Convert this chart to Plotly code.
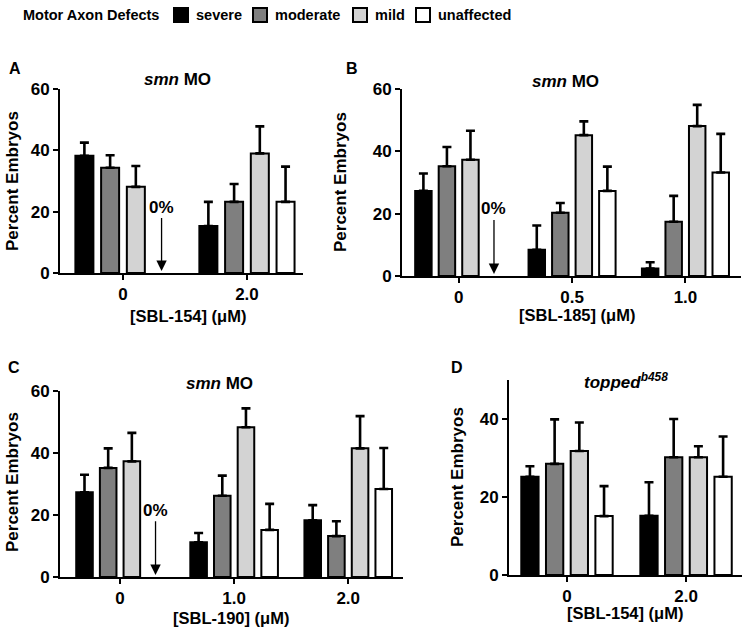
import plotly.graph_objects as go

# ---------------- data ----------------
series = ["severe", "moderate", "mild", "unaffected"]
colors = ["#000000", "#7f7f7f", "#d3d3d3", "#ffffff"]
legend_title = "Motor Axon Defects"

cats_A = ["0", "2.0"]
A_vals = {
    "severe": [38.2, 15.3],
    "moderate": [34.3, 23.2],
    "mild": [28.1, 39.0],
    "unaffected": [0, 23.2],
}
A_err = {
    "severe": [4.3, 7.9],
    "moderate": [4.1, 5.8],
    "mild": [6.8, 8.8],
    "unaffected": [0, 11.5],
}

cats_B = ["0", "0.5", "1.0"]
B_vals = {
    "severe": [27.3, 8.4, 2.4],
    "moderate": [35.2, 20.3, 17.4],
    "mild": [37.3, 45.2, 48.1],
    "unaffected": [0, 27.3, 33.2],
}
B_err = {
    "severe": [5.6, 7.8, 2.0],
    "moderate": [6.2, 3.1, 8.3],
    "mild": [9.3, 4.4, 6.8],
    "unaffected": [0, 7.8, 12.4],
}

cats_C = ["0", "1.0", "2.0"]
C_vals = {
    "severe": [27.3, 11.2, 18.3],
    "moderate": [35.2, 26.2, 13.2],
    "mild": [37.3, 48.3, 41.5],
    "unaffected": [0, 15.2, 28.4],
}
C_err = {
    "severe": [5.7, 3.0, 4.9],
    "moderate": [6.3, 6.5, 4.8],
    "mild": [9.2, 6.1, 10.4],
    "unaffected": [0, 8.4, 13.2],
}

cats_D = ["0", "2.0"]
D_vals = {
    "severe": [25.2, 15.2],
    "moderate": [28.5, 30.2],
    "mild": [31.8, 30.2],
    "unaffected": [15.1, 25.2],
}
D_err = {
    "severe": [2.7, 8.6],
    "moderate": [11.4, 9.8],
    "mild": [7.3, 2.8],
    "unaffected": [7.7, 10.3],
}

x_titles = ["[SBL-154] (μM)", "[SBL-185] (μM)", "[SBL-190] (μM)", "[SBL-154] (μM)"]
panel_titles = ["<i>smn</i> MO", "<i>smn</i> MO", "<i>smn</i> MO", "<i>topped<sup>b458</sup></i>"]
panel_letters = ["A", "B", "C", "D"]

# ---------------- layout helpers ----------------
W, H = 748, 637
FONT = "Liberation Sans, Arial, sans-serif"
BARGAP = 0.17


def px(x):
    return x / W


def py(y):
    return 1 - y / H


fig = go.Figure()

panels = [
    ("x", "y", cats_A, A_vals, A_err),
    ("x2", "y2", cats_B, B_vals, B_err),
    ("x3", "y3", cats_C, C_vals, C_err),
    ("x4", "y4", cats_D, D_vals, D_err),
]

for pi, (xa, ya, cats, vals, errs) in enumerate(panels):
    for si, s in enumerate(series):
        v = [val if val > 0 else None for val in vals[s]]
        fig.add_trace(go.Bar(
            x=cats, y=v, name=s, xaxis=xa, yaxis=ya,
            marker=dict(color=colors[si], line=dict(color="black", width=2)),
            error_y=dict(type="data", array=errs[s], arrayminus=[0] * len(cats),
                         symmetric=False, color="black", thickness=2.6, width=4.5),
            showlegend=False, legendgroup=s,
        ))

axis_common = dict(
    showline=True, linecolor="black", linewidth=2, mirror=False,
    ticks="outside", ticklen=5, tickwidth=2, tickcolor="black",
    showgrid=False, zeroline=False,
    tickfont=dict(family=FONT, size=17, color="black", weight="bold"),
)

# domains in pixels: (x0, x1, ytop, ybottom, xrange, ymax)
geo = [
    (60, 303, 89, 273, [-0.508, 1.452], 60),
    (402, 741, 89, 276, [-0.5, 2.49], 60),
    (60, 403, 391, 577, [-0.526, 2.48], 60),
    (509, 742, 380, 575, [-0.487, 1.47], 50),
]

lay = {}
for i, (x0, x1, yt, yb, xr, ymax) in enumerate(geo):
    sfx = "" if i == 0 else str(i + 1)
    lay["xaxis" + sfx] = dict(axis_common, domain=[px(x0), px(x1)], range=xr,
                              anchor="y" + sfx, type="category",
                              categoryorder="array", categoryarray=panels[i][2])
    lay["yaxis" + sfx] = dict(axis_common, domain=[py(yb), py(yt)], range=[0, ymax],
                              anchor="x" + sfx, dtick=20, tick0=0)

fig.update_layout(**lay)

ann = []
shapes = []
# panel letters
letter_pos = [(15, 68), (352, 68), (14, 367), (457, 367)]
for (lx, ly), t in zip(letter_pos, panel_letters):
    ann.append(dict(text="<b>%s</b>" % t, x=px(lx), y=py(ly), xref="paper", yref="paper",
                    showarrow=False, font=dict(family=FONT, size=16, color="black"),
                    xanchor="center", yanchor="middle"))
# panel titles
title_pos = [(177, 80), (565, 81), (219, 384), (626, 381)]
for (tx, ty), t in zip(title_pos, panel_titles):
    ann.append(dict(text="<b>%s</b>" % t, x=px(tx), y=py(ty), xref="paper", yref="paper",
                    showarrow=False, font=dict(family=FONT, size=17, color="black"),
                    xanchor="center", yanchor="middle"))
# y titles
ytitle_pos = [(13, 181), (340, 182), (12, 482), (457, 477)]
for (tx, ty) in ytitle_pos:
    ann.append(dict(text="<b>Percent Embryos</b>", x=px(tx), y=py(ty), xref="paper", yref="paper",
                    showarrow=False, textangle=-90, font=dict(family=FONT, size=17, color="black"),
                    xanchor="center", yanchor="middle"))
# x titles
xtitle_pos = [(188, 316), (577, 315), (231, 618), (625, 613)]
for (tx, ty), t in zip(xtitle_pos, x_titles):
    ann.append(dict(text="<b>%s</b>" % t, x=px(tx), y=py(ty), xref="paper", yref="paper",
                    showarrow=False, font=dict(family=FONT, size=16.5, color="black"),
                    xanchor="center", yanchor="middle", borderpad=0))

# "0%" arrows at the unaffected slot of the first group (A, B, C)
slot = 3 * (1 - BARGAP) / 8
for sfx in ["", "2", "3"]:
    ann.append(dict(text="<b>0%</b>", x=0 + slot, y=0, ax=0 + slot, ay=21.5,
                    xref="x" + sfx, yref="y" + sfx, axref="x" + sfx, ayref="y" + sfx,
                    showarrow=True, arrowhead=2, arrowsize=1.6, arrowwidth=1.3,
                    arrowcolor="black", standoff=2,
                    font=dict(family=FONT, size=17, color="black")))

# legend (header row)
LEG_Y = 15
ann.append(dict(text="<b>%s</b>" % legend_title, x=px(21), y=py(LEG_Y), xref="paper", yref="paper",
                showarrow=False, xanchor="left", yanchor="middle",
                font=dict(family=FONT, size=14.5, color="black")))
sq_left = [173, 252, 352, 415]
for si, s in enumerate(series):
    x0 = sq_left[si]
    shapes.append(dict(type="rect", xref="paper", yref="paper",
                       x0=px(x0 + 1), x1=px(x0 + 15), y0=py(LEG_Y + 7), y1=py(LEG_Y - 7),
                       fillcolor=colors[si], line=dict(color="black", width=2)))
    ann.append(dict(text="<b>%s</b>" % s, x=px(x0 + 21), y=py(LEG_Y), xref="paper", yref="paper",
                    showarrow=False, xanchor="left", yanchor="middle",
                    font=dict(family=FONT, size=14.5, color="black")))

fig.update_layout(
    annotations=ann, shapes=shapes,
    width=W, height=H,
    margin=dict(l=0, r=0, t=0, b=0, autoexpand=False),
    paper_bgcolor="white", plot_bgcolor="white",
    barmode="group", bargap=BARGAP, bargroupgap=0.3,
    showlegend=False,
    font=dict(family=FONT, color="black"),
)

fig.write_html("out.html", config={"displayModeBar": False},
               post_script="document.body.style.margin='0';")
